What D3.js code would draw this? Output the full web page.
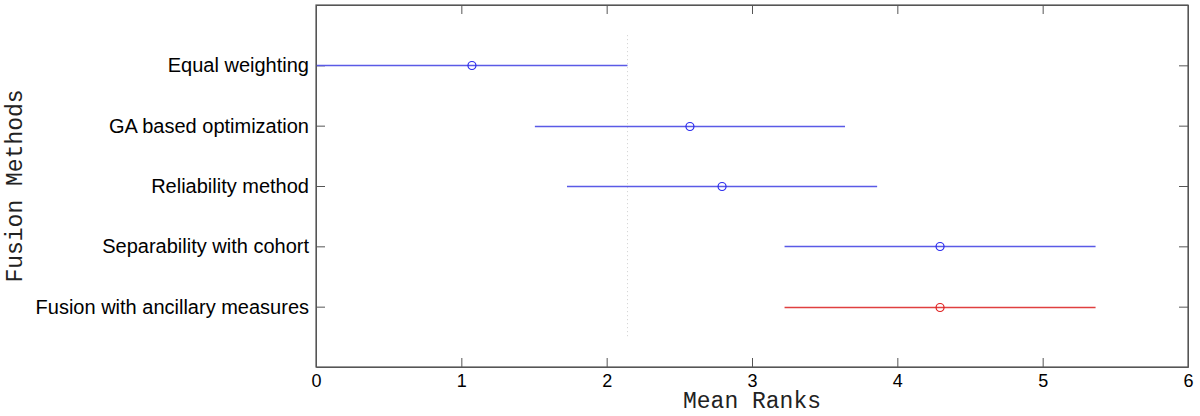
<!DOCTYPE html>
<html lang="en">
<head>
<meta charset="UTF-8">
<script src="https://d3js.org/d3.v7.min.js"></script>
<style>
    body { margin: 0; background: #fff; }
    .ylab text { font-family: "Liberation Sans", Arial, sans-serif; font-size: 20px; fill: #000; }
    .xlab text { font-family: "Liberation Sans", Arial, sans-serif; font-size: 18px; fill: #000; }
    .title { font-family: "Liberation Mono", "Courier New", monospace; font-size: 23px; fill: #222; }
</style>
</head>
<body>
<svg width="1200" height="416"></svg>
<script>
var methods = ["Equal weighting", "GA based optimization", "Reliability method", "Separability with cohort", "Fusion with ancillary measures"];
var means = [1.073, 2.573, 2.794, 4.294, 4.294];
var halfWidth = [1.07, 1.067, 1.067, 1.07, 1.07];
var colors = ["#5a5ae6", "#5a5ae6", "#5a5ae6", "#5a5ae6", "#e04040"];
var dotColors = ["#2a2aee", "#2a2aee", "#2a2aee", "#2a2aee", "#e02020"];
var xTicks = [0, 1, 2, 3, 4, 5, 6];
var refLine = 2.14;

var svg = d3.select("svg");
var margin = {top: 5, right: 12, bottom: 49, left: 316};
var width = 1200 - margin.left - margin.right,
    height = 416 - margin.top - margin.bottom;

var g = svg.append("g").attr("transform", "translate(" + margin.left + "," + margin.top + ")");

var x = d3.scaleLinear().domain([0, 6]).range([0, width]);
var y = d3.scaleLinear().domain([0, 6]).range([0, height]);
var rows = methods.map(function(d, i) { return i + 1; });

g.append("defs").append("clipPath").attr("id", "clip")
    .append("rect").attr("width", width).attr("height", height);

// axes first, marks on top
var xBottom = d3.axisBottom(x).tickValues(xTicks).tickSize(-9).tickPadding(7).tickSizeOuter(0).tickFormat(d3.format("d"));
var xTop = d3.axisTop(x).tickValues(xTicks).tickSize(-9).tickFormat("").tickSizeOuter(0);
var yLeft = d3.axisLeft(y).tickValues(rows).tickSize(-9).tickPadding(7)
    .tickFormat(function(d) { return methods[d - 1]; }).tickSizeOuter(0);
var yRight = d3.axisRight(y).tickValues(rows).tickSize(-9).tickFormat("").tickSizeOuter(0);

g.append("g").attr("class", "xlab").attr("transform", "translate(0," + height + ")").call(xBottom);
g.append("g").call(xTop);
g.append("g").attr("class", "ylab").call(yLeft);
g.append("g").attr("transform", "translate(" + width + ",0)").call(yRight);

g.selectAll(".domain").attr("stroke", "#555");
g.selectAll(".tick line").attr("stroke", "#555");

// reference dotted line
g.append("line")
    .attr("x1", x(refLine) + 0.5).attr("x2", x(refLine) + 0.5)
    .attr("y1", y(0.5)).attr("y2", y(5.5))
    .attr("stroke", "#d0d0d0").attr("stroke-width", 1)
    .attr("stroke-dasharray", "1,3");

var marks = g.append("g").attr("clip-path", "url(#clip)");
marks.selectAll("line.ci").data(means).enter().append("line")
    .attr("class", "ci")
    .attr("x1", function(d, i) { return x(d - halfWidth[i]); })
    .attr("x2", function(d, i) { return x(d + halfWidth[i]); })
    .attr("y1", function(d, i) { return Math.round(y(rows[i])) + 0.5; })
    .attr("y2", function(d, i) { return Math.round(y(rows[i])) + 0.5; })
    .style("stroke", function(d, i) { return colors[i]; })
    .style("stroke-width", 1.3);

marks.selectAll("circle.pt").data(means).enter().append("circle")
    .attr("class", "pt")
    .attr("cx", function(d) { return x(d); })
    .attr("cy", function(d, i) { return Math.round(y(rows[i])) + 0.5; })
    .attr("r", 4)
    .style("fill", "none")
    .style("stroke", function(d, i) { return dotColors[i]; })
    .style("stroke-width", 1.2);

// frame
g.append("rect").attr("width", width).attr("height", height)
    .attr("fill", "none").attr("stroke", "#555").attr("stroke-width", 1.2);

svg.append("text").attr("class", "title")
    .attr("x", margin.left + width / 2).attr("y", 408)
    .attr("text-anchor", "middle").text("Mean Ranks");

svg.append("text").attr("class", "title")
    .attr("transform", "translate(22," + (margin.top + height / 2) + ") rotate(-90)")
    .attr("text-anchor", "middle").text("Fusion Methods");
</script>
</body>
</html>
